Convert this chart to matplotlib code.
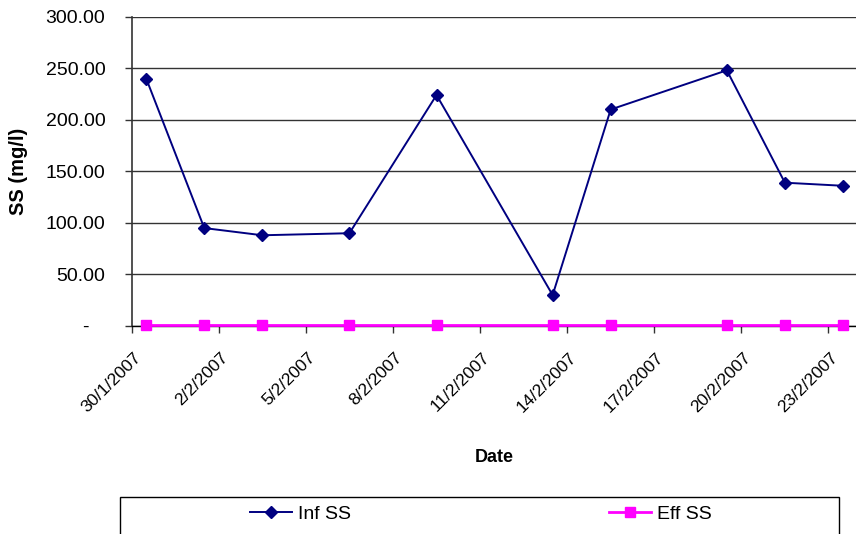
import matplotlib
matplotlib.use("Agg")
import matplotlib.pyplot as plt
import numpy as np
import pandas as pd
from matplotlib.patches import Rectangle

plt.rcParams['font.family'] = ['Liberation Sans', 'DejaVu Sans']

# Sampling dates and suspended solids (mg/l)
dates = pd.to_datetime(['2007-01-30', '2007-02-01', '2007-02-03', '2007-02-06',
                        '2007-02-09', '2007-02-13', '2007-02-15', '2007-02-19',
                        '2007-02-21', '2007-02-23'])
inf_ss = [240, 95, 88, 90, 224, 30, 210, 248, 139, 136]
eff_ss = [0.5, 0.5, 0.5, 0.5, 0.5, 0.5, 0.5, 0.5, 0.5, 0.5]

start = pd.Timestamp('2007-01-30')
n_days = 25
label_days = list(range(0, n_days, 3))
y_ticks = [0, 50, 100, 150, 200, 250, 300]

# each date sits in the middle of its one-day slot
x = np.array([(d - start).days for d in dates]) + 0.5

fig = plt.figure(figsize=(8.56, 5.34), dpi=100)
ax = fig.add_axes([131.7 / 856, 1 - 326 / 534, 725.75 / 856, 309.3 / 534])

ax.plot(x, inf_ss, color='#000080', lw=1.4, marker='D', ms=6.5,
        label='Inf SS', clip_on=False, zorder=3)
ax.plot(x, eff_ss, color='#ff00ff', lw=2.0, marker='s', ms=6.5,
        label='Eff SS', clip_on=False, zorder=4)

ax.set_xlim(0, n_days)
ax.set_ylim(0, 300)

# y axis: accounting-style labels
ax.set_yticks(y_ticks)
ax.set_yticklabels(['-   ' if v == 0 else f'{v:.2f}' for v in y_ticks])
ax.yaxis.grid(True, color='#333333', lw=1.0)
ax.set_axisbelow(True)
ax.tick_params(axis='y', length=5, width=1, color='#333333', pad=14,
               labelsize=14)

# x axis: tick marks on slot edges, date labels near slot centres
ax.set_xticks(label_days)
ax.set_xticklabels([])
ax.tick_params(axis='x', which='major', length=5, width=1, color='#333333')
ax.set_xticks([d + 0.25 for d in label_days], minor=True)
ax.set_xticklabels([(start + pd.Timedelta(days=d)).strftime('%-d/%-m/%Y')
                    for d in label_days], minor=True, rotation=45,
                   ha='right', va='center', rotation_mode='anchor')
ax.tick_params(axis='x', which='minor', length=0, pad=21, labelsize=12.5)

for s in ['top', 'right']:
    ax.spines[s].set_visible(False)
ax.spines['left'].set_color('#333333')
ax.spines['left'].set_linewidth(1.2)
ax.spines['bottom'].set_color('#000000')
ax.spines['bottom'].set_linewidth(1.0)

fig.text(494 / 856, 1 - 457 / 534, 'Date', ha='center', va='center',
         fontsize=13, fontweight='bold')
fig.text(18.5 / 856, 1 - 171.5 / 534, 'SS (mg/l)', ha='center', va='center',
         rotation=90, fontsize=14.5, fontweight='bold')

# legend box along the bottom
fig.add_artist(Rectangle((120 / 856, -0.05), 719 / 856, 0.05 + 1 - 497 / 534,
                         transform=fig.transFigure, fill=False,
                         edgecolor='#000000', lw=1.0))
fig.legend(loc='center left', bbox_to_anchor=(250 / 856, 1 - 514 / 534),
           ncol=2, frameon=False, fontsize=14, handlelength=2.16,
           handletextpad=0.3, columnspacing=13.3, borderpad=0,
           borderaxespad=0)

fig.savefig('out.png', dpi=100)
